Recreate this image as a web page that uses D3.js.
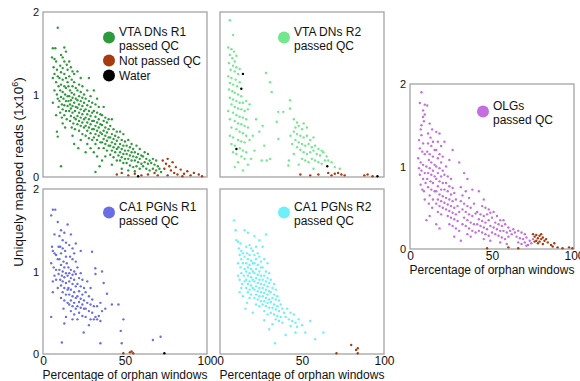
<!DOCTYPE html>
<html>
<head>
<meta charset="utf-8">
<script src="https://cdn.jsdelivr.net/npm/d3@7"></script>
<style>
  body { margin: 0; background: #fff; }
  svg text { font-family: "Liberation Sans", Arial, sans-serif; fill: #111; }
</style>
</head>
<body>
<svg id="chart" width="580" height="381"></svg>
<script>
// [percentage of orphan windows, uniquely mapped reads (1x10^6)]
const vtaR1Passed = [
  [9,1.81],[6,1.56],[7.5,1.56],[5.5,1.45],[7,1.43],[8,1.4],[6.5,1.33],[8.5,1.3],[7,1.25],[9,1.22],[6,1.2],[8,1.15],[9.5,1.1],[7,1.05],[8.5,1.0],[9,0.95],[6,0.9],[9.5,0.85],[8,0.75],[9,0.49],[8.5,0.55],[11,0.13],
  [13,1.57],[14,1.52],[11,1.48],[12,1.45],[13,1.4],[14.5,1.36],[10.5,1.35],[12,1.32],[15,1.3],[11,1.27],[13,1.25],[14,1.2],[10,1.2],[12,1.18],[15,1.15],[11,1.12],[13,1.1],[14,1.08],[10.5,1.05],[12,1.03],[13.5,1.0],[15,0.98],[11,0.97],[12.5,0.95],[14,0.92],[10,0.92],[11.5,0.88],[13,0.87],[15,0.86],[12,0.82],[14,0.8],[10.5,0.78],[13,0.75],[11.5,0.72],[14.5,0.7],[12,0.65],[13.5,0.6],
  [16,1.4],[17,1.33],[18,1.28],[19,1.25],[16,1.22],[17.5,1.18],[19,1.15],[15.5,1.1],[18,1.1],[20,1.08],[16.5,1.05],[17.5,1.02],[19,1.0],[16,0.98],[18,0.96],[20,0.95],[17,0.93],[15.5,0.92],[19,0.9],[16.5,0.88],[18,0.86],[20,0.85],[17,0.83],[19.5,0.8],[16,0.8],[18,0.78],[17,0.74],[19,0.72],[20,0.7],[16.5,0.68],[18.5,0.65],[17.5,0.6],[19.5,0.58],[18,0.5],[19,0.4],
  [21,1.28],[23,1.2],[22,1.12],[24,1.1],[21,1.05],[23,1.03],[25,1.0],[22,0.98],[24,0.96],[21,0.93],[23,0.92],[25,0.9],[22,0.88],[24,0.86],[21,0.84],[23,0.82],[25,0.8],[22,0.78],[24,0.76],[21,0.74],[23,0.72],[25,0.7],[22,0.68],[24,0.66],[21,0.64],[23,0.62],[25,0.6],[22,0.56],[24,0.52],[23,0.45],[21.5,0.35],
  [28,1.2],[27,1.05],[29,0.98],[26,0.95],[28,0.92],[30,0.9],[27,0.87],[29,0.85],[26,0.82],[28,0.8],[30,0.78],[27,0.76],[29,0.74],[26,0.72],[28,0.7],[30,0.68],[27,0.66],[29,0.64],[26,0.62],[28,0.6],[30,0.58],[27,0.56],[29,0.53],[26,0.5],[28,0.47],[30,0.45],[27,0.4],[29,0.35],[26,0.3],
  [31,1.05],[33,0.95],[32,0.88],[34,0.85],[31,0.8],[33,0.78],[35,0.76],[32,0.73],[34,0.7],[31,0.68],[33,0.66],[35,0.64],[32,0.62],[34,0.6],[31,0.58],[33,0.56],[35,0.54],[32,0.52],[34,0.5],[31,0.48],[33,0.45],[35,0.42],[32,0.4],[34,0.35],[31,0.3],[33,0.25],[34.5,0.13],[32,0.06],
  [37,0.85],[36,0.75],[38,0.72],[40,0.7],[37,0.68],[39,0.66],[36,0.63],[38,0.6],[40,0.58],[37,0.56],[39,0.54],[36,0.52],[38,0.5],[40,0.48],[37,0.46],[39,0.44],[36,0.42],[38,0.4],[40,0.38],[37,0.35],[39,0.32],[38,0.25],[36,0.2],
  [42,0.7],[41,0.62],[43,0.58],[45,0.55],[42,0.52],[44,0.5],[41,0.48],[43,0.46],[45,0.44],[42,0.42],[44,0.4],[41,0.38],[43,0.36],[45,0.34],[42,0.32],[44,0.3],[41,0.27],[43,0.24],[45,0.2],[42,0.15],
  [47,0.55],[49,0.52],[46,0.48],[48,0.45],[50,0.43],[47,0.4],[49,0.38],[46,0.36],[48,0.34],[50,0.32],[47,0.3],[49,0.28],[46,0.26],[48,0.24],[50,0.22],[47,0.2],[49,0.17],[48,0.1],
  [52,0.45],[54,0.4],[51,0.38],[53,0.36],[55,0.34],[52,0.32],[54,0.3],[51,0.28],[53,0.26],[55,0.25],[52,0.22],[54,0.2],[51,0.17],[53,0.14],[55,0.12],[52,0.08],
  [57,0.38],[59,0.34],[56,0.3],[58,0.28],[60,0.26],[57,0.24],[59,0.22],[56,0.2],[58,0.18],[60,0.16],[57,0.13],[59,0.1],[56,0.07],
  [62,0.3],[64,0.28],[61,0.25],[63,0.22],[65,0.2],[62,0.18],[64,0.16],[61,0.13],[63,0.1],[65,0.08],
  [67,0.22],[69,0.2],[66,0.17],[68,0.15],[70,0.13],[67,0.1],[69,0.08],[71,0.1],[72,0.06]
];
const vtaR1Failed = [
  [73,0.2],[75,0.16],[74,0.1],[76,0.22],[77,0.13],[78,0.08],[79,0.18],[80,0.05],[81,0.12],[82,0.03],[84,0.09],[86,0.04],[88,0.07],[90,0.02],[92,0.05],[95,0.03],[97,0.01],
  [45,0.03],[48,0.05],[52,0.02],[56,0.04],[60,0.02],[64,0.03],[68,0.05],[70,0.02],[76,0.02],[85,0.01]
];
const vtaR1Water = [[58,0.01]];

const vtaR2Passed = [
  [6,1.9],[8,1.72],[5,1.57],[7,1.55],[8.5,1.52],[6,1.48],[10,1.47],[7.5,1.44],[9,1.4],[5.5,1.38],[8,1.35],[10,1.33],[12,1.31],[6.5,1.3],[9,1.28],[11,1.25],[5,1.22],[7,1.2],[9.5,1.18],[12,1.15],[6,1.14],[8,1.12],[10.5,1.1],[5.5,1.06],[7.5,1.04],[9,1.02],[11,1.0],[13,0.98],[6,0.96],[8,0.94],[10,0.92],[12,0.9],[14,0.9],[16,0.92],[18,0.88],
  [7,0.88],[9,0.85],[11,0.83],[13,0.82],[15,0.8],[17,0.82],[5,0.8],[8,0.78],[10,0.75],[12,0.73],[14,0.72],[16,0.7],[6,0.7],[9,0.68],[11,0.65],[13,0.64],[15,0.62],[17,0.6],[7,0.6],[10,0.58],[12,0.55],[14,0.53],[16,0.5],[6,0.5],[8,0.48],[11,0.45],[13,0.43],[15,0.42],[18,0.45],[7,0.4],[9,0.38],[12,0.35],[14,0.32],[16,0.3],[8,0.3],[10,0.28],[13,0.25],[15,0.22],[19,0.22],[11,0.18],[17,0.15],[9,0.12],[14,0.08],
  [28,1.26],[30.5,1.15],[31.5,1.03],[35.5,0.79],[38.6,0.79],[42.7,0.93],[42.7,0.83],[34.6,0.67],[35.6,0.46],[30.5,0.22],[28.5,0.2],[25.4,0.2],[41.7,0.14],[22,0.7],[24,0.55],[26,0.62],[20,0.5],[27,0.38],[21,0.32],
  [45,0.7],[47,0.66],[46,0.6],[48,0.62],[50,0.58],[45,0.55],[47,0.52],[49,0.5],[51,0.48],[53,0.5],[55,0.45],[57,0.48],[43,0.5],[46,0.45],[48,0.42],[50,0.4],[52,0.38],[54,0.4],[56,0.36],[58,0.38],[60,0.34],[62,0.32],[44,0.4],[47,0.36],[49,0.33],[51,0.3],[53,0.28],[55,0.3],[57,0.32],[59,0.28],[61,0.26],[63,0.3],[65,0.25],[50,0.22],[52,0.2],[54,0.18],[56,0.22],[58,0.2],[60,0.18],[62,0.16],[64,0.2],[66,0.2],[68,0.18],[70,0.12],[45,0.28],[42,0.2],[48,0.15],[57,0.1],[53,0.6],[51,0.65],[73,0.1]
];
const vtaR2Failed = [
  [49,0.03],[55,0.02],[60,0.03],[66,0.05],[68,0.02],[70,0.04],[72,0.05],[74,0.03],[76,0.02],[88,0.02],[90,0.03],[93,0.01]
];
const vtaR2Water = [[14,1.25],[13,1.07],[10,0.34],[65.4,0.13],[96,0.01]];

const ca1R1Passed = [
  [6,1.75],[7.5,1.75],[5,1.68],[9,1.6],[7,1.45],[5.5,1.3],[6,1.25],[7,1.22],[8,1.2],[5,1.1],[6.5,1.05],[8,1.02],[9,1.15],[7,0.95],[9.5,0.97],[6,0.88],[8,0.9],[5,0.45],[6,0.75],[9,0.8],[9.5,1.3],
  [13,1.47],[10,1.43],[11,1.5],[12,1.38],[14,1.35],[10.5,1.3],[12,1.28],[13.5,1.25],[11,1.22],[14,1.18],[10,1.15],[12.5,1.12],[14.5,1.1],[11,1.08],[13,1.05],[10,1.02],[12,1.0],[14,0.98],[11.5,0.95],[13,0.93],[15,0.95],[10.5,0.9],[12,0.88],[14,0.86],[11,0.83],[13,0.8],[15,0.78],[12,0.75],[14,0.72],[11,0.68],[13,0.65],[15,0.62],[12.5,0.55],[14,0.45],[13,0.37],[11.5,0.14],
  [15,1.57],[17,1.45],[16,1.32],[18,1.28],[19,1.22],[16.5,1.18],[18,1.15],[20,1.12],[15.5,1.05],[17,1.02],[19,1.0],[16,0.98],[18,0.96],[20,0.97],[17,0.92],[19,0.9],[16,0.88],[18,0.85],[20,0.82],[15.5,0.8],[17,0.78],[19,0.75],[16,0.72],[18,0.7],[20,0.68],[17,0.65],[19,0.62],[16,0.6],[18,0.58],[20,0.55],[17,0.52],[19,0.48],[18,0.42],
  [20,1.34],[21,1.05],[23,0.98],[22,0.92],[24,0.9],[21,0.85],[23,0.82],[25,0.8],[22,0.76],[24,0.72],[21,0.7],[23,0.67],[25,0.65],[22,0.63],[24,0.6],[21,0.58],[23,0.56],[25,0.55],[22,0.5],[24,0.46],[21,0.42],[24.8,0.26],[23,1.25],
  [29.9,1.24],[31.9,1.04],[36,1.0],[32,0.97],[37,0.86],[39,0.73],[27,0.88],[29,0.8],[26,0.75],[28,0.7],[30,0.66],[27,0.62],[29,0.6],[31,0.58],[26,0.55],[28,0.52],[30,0.5],[32,0.45],[34,0.46],[36,0.52],[38,0.55],[33,0.42],[35,0.4],[31,0.42],[29,0.42],[26,0.45],[28,0.35],[33,0.58],[35,0.62],[35,0.13],
  [42,0.6],[46,0.6],[49,0.42],[47.4,0.28],[48,0.13],[67,0.17],[71.7,0.21]
];
const ca1R1Failed = [[49,0.01],[53,0.02],[54,0.03],[55,0.01]];
const ca1R1Water = [[74,0.01]];

const ca1R2Passed = [
  [8.5,1.62],[9.5,1.5],[10,1.38],[11,1.36],[12.5,1.34],[11.5,1.28],[13,1.25],[12,1.2],[14,1.22],[13,1.15],[15,1.18],[11,1.1],[14,1.1],[12.5,1.05],[15,1.03],[13,0.98],[11,0.95],[14.5,0.95],[12,0.9],[13.5,0.85],[15,0.88],[12,0.75],[14,0.7],[13,0.8],[15.5,0.55],
  [15,1.5],[17,1.47],[16,1.3],[18,1.32],[19,1.28],[16.5,1.22],[18,1.2],[20,1.25],[17,1.15],[19,1.13],[16,1.1],[18,1.08],[20,1.1],[17,1.05],[19,1.03],[16,1.0],[18,0.98],[20,1.0],[17,0.95],[19,0.93],[16,0.9],[18,0.88],[20,0.9],[17,0.85],[19,0.83],[16,0.8],[18,0.78],[20,0.8],[17,0.75],[19,0.72],[18,0.68],[20,0.5],[16.5,0.62],
  [21,1.43],[24,1.38],[22,1.3],[23,1.22],[21,1.2],[24,1.18],[22,1.15],[25,1.12],[21,1.1],[23,1.08],[25,1.05],[22,1.03],[24,1.0],[21,0.98],[23,0.96],[25,0.95],[22,0.92],[24,0.9],[21,0.88],[23,0.86],[25,0.85],[22,0.82],[24,0.8],[21,0.78],[23,0.76],[25,0.75],[22,0.72],[24,0.7],[23,0.66],[25,0.64],[22,0.6],[24,0.58],[21,0.68],
  [28,1.45],[26,1.3],[27,1.15],[29,1.1],[26,1.05],[28,1.0],[30,0.98],[27,0.95],[29,0.92],[26,0.9],[28,0.88],[30,0.86],[27,0.84],[29,0.82],[26,0.8],[28,0.78],[30,0.76],[27,0.74],[29,0.72],[26,0.7],[28,0.68],[30,0.66],[27,0.64],[29,0.62],[26,0.6],[28,0.58],[30,0.56],[27,0.52],[29,0.48],[27,0.41],[30,0.3],
  [31,0.9],[33,0.85],[32,0.8],[34,0.78],[31,0.75],[33,0.72],[35,0.7],[32,0.68],[34,0.66],[36,0.65],[31,0.63],[33,0.6],[35,0.58],[37,0.6],[32,0.56],[34,0.54],[36,0.52],[38,0.55],[31,0.5],[33,0.48],[35,0.46],[37,0.45],[39,0.5],[34,0.42],[36,0.4],[38,0.38],[40,0.45],[33.5,0.13],[32,0.36],
  [41,0.55],[43,0.5],[45,0.48],[42,0.42],[44,0.4],[46,0.38],[48,0.42],[43,0.34],[47,0.33],[40,0.23],[46,0.26],[52,0.26],[55,0.4],[58,0.18],[63,0.26],[50,0.35]
];
const ca1R2Failed = [[80,0.11],[83,0.05],[84,0.07],[71,0.01],[84,0.01]];

const olgPassed = [
  [7,1.9],[6,1.77],[9,1.75],[8,1.68],[9,1.63],[8,1.6],[8.5,1.55],[7,1.5],[6.5,1.45],[7,1.38],[5.5,1.32],[8,1.28],[6,1.22],[7.5,1.18],[9,1.15],[5,1.1],[6.5,1.05],[8,1.02],[5.5,0.98],[7,0.95],[9,0.92],[6,0.9],[8,0.85],[9.5,0.8],[6.5,0.78],[8.5,0.7],[7.5,0.72],[9,0.6],
  [10.5,1.74],[12,1.52],[13.5,1.45],[11,1.4],[12.5,1.35],[14,1.3],[11,1.28],[13,1.25],[15,1.2],[10.5,1.18],[12,1.15],[14,1.12],[11.5,1.08],[13,1.05],[15,1.02],[10,1.0],[12,0.98],[14,0.95],[11,0.92],[13,0.9],[15,0.88],[10.5,0.85],[12.5,0.82],[14,0.8],[11,0.75],[13,0.72],[15,0.7],[12,0.65],[14,0.6],[11.5,0.55],[13.5,0.5],[12,0.4],[10,0.35],
  [16,1.42],[18,1.4],[17,1.3],[19,1.25],[16,1.2],[18,1.15],[20,1.12],[17,1.1],[19,1.05],[16,1.0],[18,0.98],[20,0.95],[17,0.92],[19,0.88],[16,0.85],[18,0.82],[20,0.8],[17,0.76],[19,0.72],[16,0.7],[18,0.66],[20,0.64],[17,0.6],[19,0.58],[16,0.55],[18,0.52],[20,0.5],[17,0.45],[19,0.42],[16,0.3],[18,0.25],
  [21,1.3],[26,1.2],[24,1.08],[22,1.0],[21,0.9],[23,0.88],[25,0.85],[22,0.8],[24,0.76],[26,0.74],[21,0.72],[23,0.7],[25,0.66],[27,0.68],[22,0.62],[24,0.6],[26,0.58],[28,0.6],[21,0.56],[23,0.54],[25,0.52],[27,0.5],[29,0.52],[22,0.48],[24,0.46],[26,0.44],[28,0.42],[30,0.45],[23,0.4],[25,0.38],[27,0.36],[29,0.34],[24,0.3],[26,0.28],[28,0.25],[30,0.22],[27,0.15],[31,0.1],
  [30,1.05],[33,0.92],[35,0.85],[38,0.72],[31,0.75],[34,0.7],[32,0.65],[36,0.62],[31,0.58],[33,0.55],[35,0.52],[37,0.5],[39,0.55],[32,0.48],[34,0.45],[36,0.42],[38,0.4],[40,0.43],[33,0.38],[35,0.35],[37,0.32],[39,0.3],[34,0.28],[36,0.25],[38,0.22],[40,0.2],[35,0.18],[37,0.15],[32,0.3],
  [42,0.7],[45,0.6],[44,0.52],[46,0.5],[48,0.48],[41,0.45],[43,0.42],[45,0.4],[47,0.42],[49,0.44],[42,0.36],[44,0.34],[46,0.32],[48,0.35],[50,0.38],[41,0.3],[43,0.28],[45,0.26],[47,0.24],[49,0.28],[42,0.22],[44,0.2],[46,0.18],[48,0.16],[50,0.2],[45,0.12],[49,0.1],
  [51,0.45],[53,0.4],[55,0.35],[52,0.32],[54,0.3],[56,0.28],[58,0.3],[60,0.26],[51,0.26],[53,0.24],[55,0.22],[57,0.22],[59,0.2],[61,0.22],[63,0.24],[52,0.18],[54,0.16],[56,0.14],[58,0.12],[60,0.15],[62,0.18],[64,0.2],[55,0.08],[59,0.06],[57,0.35],
  [66,0.22],[68,0.2],[70,0.18],[65,0.15],[67,0.13],[69,0.12],[71,0.14],[73,0.1],[66,0.08],[68,0.06],[70,0.08],[72,0.05],[74,0.07],[75,0.12],[71,0.04]
];
const olgFailed = [
  [76,0.15],[77,0.17],[78,0.13],[79,0.16],[80,0.12],[81,0.14],[77,0.1],[79,0.09],[80,0.18],[82,0.1],[78,0.07],[76,0.09],[83,0.12],[81,0.06],[75,0.18],[84,0.08],[86,0.05],[88,0.07],[87,0.03],[90,0.02],[93,0.01],[97,0.02],[99,0.01],[47,0.01],[60,0.02],[66,0.01]
];

const xTicks = [0, 50, 100];
const yTicks = [0, 1, 2];

const colors = {
  vtaR1: "#2f9a3c", vtaR2: "#72e88e", ca1R1: "#6a6ee4",
  ca1R2: "#6ff0f8", olg: "#c46ee0", failed: "#a83a10", water: "#000"
};

const panelW = 164, panelH = 165;
const lineGap = 13.5, itemGap = 1.5;
const svg = d3.select("#chart");

const panels = [
  { left: 43, top: 12, yAxis: true, xAxis: false,
    series: [[vtaR1Passed, colors.vtaR1], [vtaR1Failed, colors.failed], [vtaR1Water, colors.water]],
    legend: { x: 66, y: 24, items: [[colors.vtaR1, ["VTA DNs R1", "passed QC"]], [colors.failed, ["Not passed QC"]], [colors.water, ["Water"]]] } },
  { left: 220, top: 12, yAxis: false, xAxis: false,
    series: [[vtaR2Passed, colors.vtaR2], [vtaR2Failed, colors.failed], [vtaR2Water, colors.water]],
    legend: { x: 64, y: 24, items: [[colors.vtaR2, ["VTA DNs R2", "passed QC"]]] } },
  { left: 43, top: 189, yAxis: true, xAxis: true,
    series: [[ca1R1Passed, colors.ca1R1], [ca1R1Failed, colors.failed], [ca1R1Water, colors.water]],
    legend: { x: 66, y: 22, items: [[colors.ca1R1, ["CA1 PGNs R1", "passed QC"]]] } },
  { left: 220, top: 189, yAxis: false, xAxis: true,
    series: [[ca1R2Passed, colors.ca1R2], [ca1R2Failed, colors.failed]],
    legend: { x: 64, y: 22, items: [[colors.ca1R2, ["CA1 PGNs R2", "passed QC"]]] } },
  { left: 410, top: 84, yAxis: true, xAxis: true,
    series: [[olgPassed, colors.olg], [olgFailed, colors.failed]],
    legend: { x: 73, y: 26, items: [[colors.olg, ["OLGs", "passed QC"]]] } }
];

const xScale = d3.scaleLinear().domain([0, 100]).range([0, panelW]);
const yScale = d3.scaleLinear().domain([0, 2]).range([panelH, 0]);

panels.forEach(p => {
  const g = svg.append("g").attr("transform", `translate(${p.left}, ${p.top})`);

  g.append("rect")
    .attr("x", 0).attr("y", 0)
    .attr("width", panelW).attr("height", panelH)
    .attr("fill", "none")
    .attr("stroke", "#a4a4a4")
    .attr("stroke-width", 1.3);

  p.series.forEach(([pts, color]) => {
    g.append("g").selectAll("circle")
      .data(pts)
      .join("circle")
      .attr("cx", d => xScale(d[0]))
      .attr("cy", d => yScale(d[1]))
      .attr("r", 1.2)
      .attr("fill", color);
  });

  if (p.yAxis) {
    const ya = g.append("g")
      .call(d3.axisLeft(yScale).tickValues(yTicks).tickSize(0).tickPadding(4).tickFormat(d3.format("d")));
    ya.select(".domain").remove();
    ya.selectAll("text").style("font-size", "11px").attr("fill", "#111");
  }

  if (p.xAxis) {
    const xa = g.append("g")
      .attr("transform", `translate(0, ${panelH})`)
      .call(d3.axisBottom(xScale).tickValues(xTicks).tickSize(0).tickPadding(2).tickFormat(d3.format("d")));
    xa.select(".domain").remove();
    xa.selectAll("text").style("font-size", "12px").attr("fill", "#111");

    g.append("text")
      .attr("x", panelW / 2)
      .attr("y", panelH + 25)
      .attr("text-anchor", "middle")
      .style("font-size", "12px")
      .text("Percentage of orphan windows");
  }

  // legend: one text element per entry, extra lines as tspans
  const lg = g.append("g");
  let ly = p.legend.y;
  p.legend.items.forEach(([color, lines]) => {
    const cy = lines.length > 1 ? ly + 1.5 : ly - 4;
    lg.append("circle")
      .attr("cx", p.legend.x).attr("cy", cy)
      .attr("r", 6).attr("fill", color);
    const t = lg.append("text")
      .attr("x", p.legend.x + 10)
      .attr("y", ly)
      .style("font-size", "12px");
    lines.forEach((line, i) => {
      t.append("tspan")
        .attr("x", p.legend.x + 10)
        .attr("dy", i === 0 ? 0 : lineGap)
        .text(line);
    });
    ly += lines.length * lineGap + itemGap;
  });
});

// shared y-axis title
const yTitle = svg.append("text")
  .attr("transform", "translate(23, 172) rotate(-90)")
  .attr("text-anchor", "middle")
  .style("font-size", "13.5px");
yTitle.append("tspan").text("Uniquely mapped reads (1x10");
yTitle.append("tspan").attr("baseline-shift", "super").style("font-size", "9px").text("6");
yTitle.append("tspan").text(")");
</script>
</body>
</html>
